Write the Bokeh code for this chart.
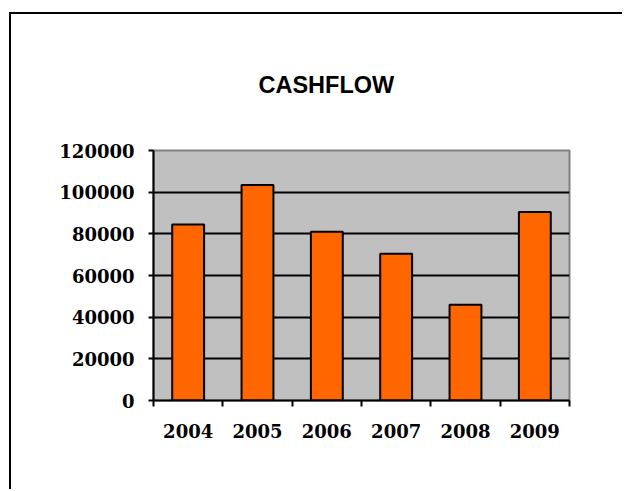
from bokeh.plotting import figure
from bokeh.models import FixedTicker, Range1d, ColumnDataSource, InlineStyleSheet
from bokeh.embed import file_html
from bokeh.resources import INLINE

title_text = "CASHFLOW"
years = ["2004", "2005", "2006", "2007", "2008", "2009"]
cashflow = [84500, 103500, 81000, 70500, 46000, 90500]
y_ticks = [0, 20000, 40000, 60000, 80000, 100000, 120000]

xpos = [i + 0.5 for i in range(len(years))]
src = ColumnDataSource(dict(x=xpos, top=cashflow, year=years))

p = figure(width=611, height=475, output_backend="svg", toolbar_location=None,
           x_range=Range1d(0, len(years)), y_range=Range1d(0, 120000),
           min_border_left=142, min_border_right=53, min_border_top=136, min_border_bottom=89,
           frame_width=416, frame_height=250)

p.stylesheets = [InlineStyleSheet(css=":host { margin-left: 9px; margin-top: 12px; "
                                      "border-left: 2px solid black; border-top: 2px solid black; }")]

p.background_fill_color = "#C0C0C0"
p.border_fill_color = "white"
p.outline_line_color = "#808080"
p.outline_line_width = 2

p.vbar(x="x", top="top", width=0.46, bottom=0, source=src,
       fill_color="#FF6600", line_color="black", line_width=2)

p.xgrid.visible = False
p.ygrid.ticker = FixedTicker(ticks=y_ticks[1:-1])
p.ygrid.grid_line_color = "black"
p.ygrid.grid_line_width = 2

yax = p.yaxis[0]
yax.ticker = FixedTicker(ticks=y_ticks)
yax.formatter.use_scientific = False
yax.axis_line_color = "black"
yax.axis_line_width = 2
yax.major_tick_in = 0
yax.major_tick_out = 5
yax.major_tick_line_width = 2
yax.minor_tick_line_color = None
yax.major_label_text_font = "DejaVu Serif"
yax.major_label_text_font_style = "bold"
yax.major_label_text_font_size = "18px"
yax.major_label_text_color = "black"
yax.major_label_standoff = 14

xax = p.xaxis[0]
xax.ticker = FixedTicker(ticks=xpos, minor_ticks=list(range(len(years) + 1)))
xax.major_label_overrides = {x: y for x, y in zip(xpos, years)}
xax.axis_line_color = "black"
xax.axis_line_width = 2
xax.major_tick_in = 0
xax.major_tick_out = 0
xax.major_tick_line_color = None
xax.minor_tick_in = 0
xax.minor_tick_out = 6
xax.minor_tick_line_width = 2
xax.minor_tick_line_color = "black"
xax.major_label_text_font = "DejaVu Serif"
xax.major_label_text_font_style = "bold"
xax.major_label_text_font_size = "18px"
xax.major_label_text_color = "black"
xax.major_label_standoff = 17

p.title.text = title_text
p.title.text_font = "Liberation Sans"
p.title.text_font_style = "bold"
p.title.text_font_size = "23.5px"
p.title.text_color = "black"
p.title.align = "left"
p.title.offset = 105
p.title.standoff = 105

open("out.html", "w").write(file_html(p, INLINE))
